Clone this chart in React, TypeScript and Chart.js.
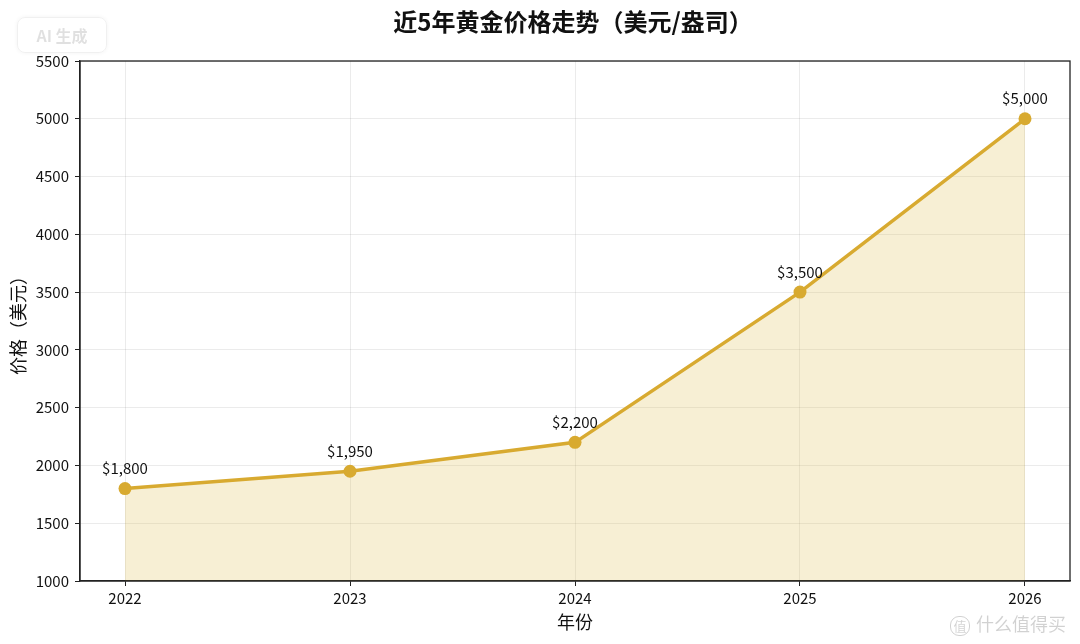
import React, { useEffect, useRef } from 'react';
import { Chart, registerables } from 'chart.js';

Chart.register(...registerables);

const years = [2022, 2023, 2024, 2025, 2026];
const prices = [1800, 1950, 2200, 3500, 5000];
const priceLabels = ['$1,800', '$1,950', '$2,200', '$3,500', '$5,000'];
const yMin = 1000;
const yMax = 5500;
const yStep = 500;
const titleText = '近5年黄金价格走势（美元/盎司）';
const xTitle = '年份';
const yTitle = '价格（美元）';

const FONT = '"Noto Sans CJK SC", "Noto Sans", sans-serif';
const LINE = 'rgb(216,170,48)';
const FILL = 'rgba(218,180,60,0.22)';

const framePlugin = {
  id: 'frame',
  afterDraw(chart: any) {
    const { ctx, chartArea } = chart;
    ctx.save();
    ctx.strokeStyle = '#222';
    ctx.lineWidth = 1.3;
    ctx.strokeRect(chartArea.left, chartArea.top, chartArea.right - chartArea.left, chartArea.bottom - chartArea.top);
    ctx.restore();
  },
};

const labelPlugin = {
  id: 'pointLabels',
  afterDatasetsDraw(chart: any) {
    const { ctx } = chart;
    const meta = chart.getDatasetMeta(0);
    ctx.save();
    ctx.font = `15px ${FONT}`;
    ctx.fillStyle = '#111';
    ctx.textAlign = 'center';
    ctx.textBaseline = 'middle';
    meta.data.forEach((pt: any, i: number) => {
      ctx.fillText(priceLabels[i], pt.x, pt.y - 20);
    });
    ctx.restore();
  },
};

const titlePlugin = {
  id: 'customTitle',
  afterDraw(chart: any) {
    const { ctx, chartArea } = chart;
    ctx.save();
    ctx.font = `bold 24px ${FONT}`;
    ctx.fillStyle = '#111';
    ctx.textAlign = 'center';
    ctx.textBaseline = 'middle';
    ctx.fillText(titleText, (chartArea.left + chartArea.right) / 2 - 2, 22);
    ctx.restore();
  },
};

export default function App() {
  const ref = useRef<HTMLCanvasElement | null>(null);

  useEffect(() => {
    document.body.style.margin = '0';
    if (!ref.current) return;
    const chart = new Chart(ref.current, {
      type: 'line',
      data: {
        datasets: [
          {
            data: years.map((y, i) => ({ x: y, y: prices[i] })),
            borderColor: LINE,
            backgroundColor: FILL,
            borderWidth: 3.5,
            pointRadius: 6.5,
            pointBackgroundColor: LINE,
            pointBorderColor: LINE,
            pointBorderWidth: 0,
            fill: 'start',
            tension: 0,
          },
        ],
      },
      options: {
        animation: false,
        responsive: false,
        maintainAspectRatio: false,
        layout: { padding: { top: 61, right: 10, left: 0, bottom: 0 } },
        plugins: {
          legend: { display: false },
          tooltip: { enabled: false },
          title: { display: false },
        },
        scales: {
          x: {
            type: 'linear',
            min: 2021.8,
            max: 2026.2,
            afterBuildTicks: (s: any) => {
              s.ticks = years.map((v) => ({ value: v }));
            },
            afterFit: (s: any) => {
              s.height = 63;
            },
            ticks: {
              callback: (v: any) => String(v),
              font: { family: FONT, size: 15 },
              color: '#111',
              padding: 3,
              maxRotation: 0,
            },
            grid: {
              color: 'rgba(0,0,0,0.08)',
              tickColor: '#222',
              tickLength: 5,
              lineWidth: 1,
            },
            border: { color: '#222', width: 1.3 },
            title: {
              display: true,
              text: xTitle,
              font: { family: FONT, size: 18 },
              color: '#111',
              padding: { top: 0, bottom: 11 },
            },
          },
          y: {
            type: 'linear',
            min: yMin,
            max: yMax,
            afterFit: (s: any) => {
              s.width = 80;
            },
            ticks: {
              stepSize: yStep,
              callback: (v: any) => String(v),
              font: { family: FONT, size: 15 },
              color: '#111',
              padding: 6,
            },
            grid: {
              color: 'rgba(0,0,0,0.08)',
              tickColor: '#222',
              tickLength: 5,
              lineWidth: 1,
            },
            border: { color: '#222', width: 1.3 },
            title: {
              display: true,
              text: yTitle,
              font: { family: FONT, size: 18 },
              color: '#111',
              padding: { top: 7, bottom: 0 },
            },
          },
        },
      },
      plugins: [framePlugin, labelPlugin, titlePlugin],
    } as any);
    return () => chart.destroy();
  }, []);

  return (
    <div style={{ position: 'fixed', left: 0, top: 0, width: 1080, height: 644, background: '#fff' }}>
      <canvas ref={ref} width={1080} height={644} style={{ width: 1080, height: 644, display: 'block' }} />
      <div
        style={{
          position: 'absolute',
          left: 17,
          top: 17,
          width: 88,
          height: 34,
          border: '1px solid rgba(0,0,0,0.06)',
          borderRadius: 8,
          boxShadow: '0 0 4px rgba(0,0,0,0.05)',
          color: 'rgba(0,0,0,0.12)',
          fontFamily: FONT,
          fontSize: 16,
          fontWeight: 'bold',
          lineHeight: '34px',
          textAlign: 'center',
        }}
      >
        AI 生成
      </div>
      <div
        style={{
          position: 'absolute',
          left: 950,
          top: 610,
          color: 'rgba(0,0,0,0.18)',
          fontFamily: FONT,
          fontSize: 18,
          whiteSpace: 'nowrap',
        }}
      >
        <span
          style={{
            display: 'inline-block',
            width: 18,
            height: 18,
            lineHeight: '18px',
            borderRadius: 9,
            border: '1.5px solid rgba(0,0,0,0.18)',
            fontSize: 13,
            textAlign: 'center',
            marginRight: 6,
            verticalAlign: 'middle',
          }}
        >
          值
        </span>
        什么值得买
      </div>
    </div>
  );
}
